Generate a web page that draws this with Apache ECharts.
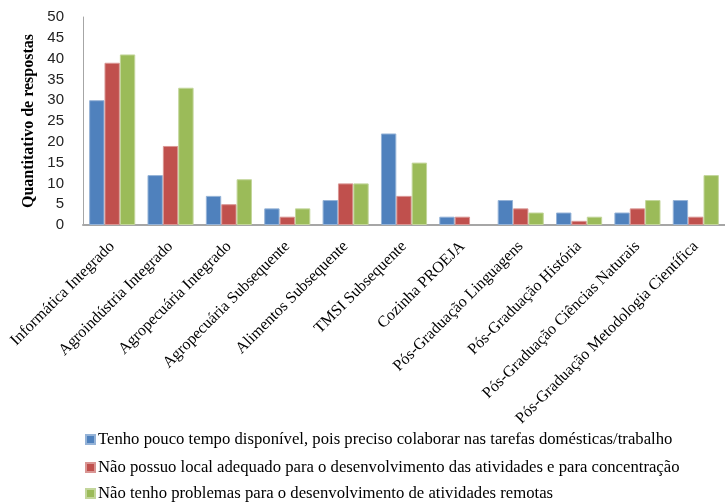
<!DOCTYPE html>
<html>
<head>
<meta charset="utf-8">
<script src="https://cdn.jsdelivr.net/npm/echarts@6/dist/echarts.min.js"></script>
<style>html,body{margin:0;padding:0;background:#fff}#c{width:725px;height:502px}</style>
</head>
<body>
<div id="c"></div>
<script>
const categories = ["Informática Integrado","Agroindústria Integrado","Agropecuária Integrado","Agropecuária Subsequente","Alimentos Subsequente","TMSI Subsequente","Cozinha PROEJA","Pós-Graduação Linguagens","Pós-Graduação História","Pós-Graduação Ciências Naturais","Pós-Graduação Metodologia Científica"];
const seriesNames = ["Tenho pouco tempo disponível, pois preciso colaborar nas tarefas domésticas/trabalho","Não possuo local adequado para o desenvolvimento das atividades e para concentração","Não tenho problemas para o desenvolvimento de atividades remotas"];
const pouco = [30,12,7,4,6,22,2,6,3,3,6];
const semLocal = [39,19,5,2,10,7,2,4,1,4,2];
const semProblemas = [41,33,11,4,10,15,0,3,2,6,12];
const colors = ["#4f81bd","#c0504d","#9bbb59"];
const borders = ["#95b3d7","#d99694","#c3d69b"];
const values = [pouco, semLocal, semProblemas];
const legendTops = [426, 454, 480];

const chart = echarts.init(document.getElementById('c'), null, {renderer:'canvas'});
chart.setOption({
  animation:false,
  backgroundColor:'#fff',
  grid:{left:83, top:17, width:653, height:208, containLabel:false},
  legend: seriesNames.map((n,i)=>({
    orient:'horizontal', left:80, top:legendTops[i], itemWidth:9, itemHeight:9,
    icon:'rect',
    textStyle:{fontFamily:'Liberation Serif', fontSize:16.7, color:'#000', padding:[0,0,0,-2]},
    data:[n]
  })),
  xAxis:{
    type:'category', data:categories,
    axisLine:{lineStyle:{color:'#a6a6a6', width:2}},
    axisTick:{show:false},
    axisLabel:{rotate:45, interval:0, margin:19, fontFamily:'Liberation Serif', fontSize:16, color:'#000'}
  },
  yAxis:{
    type:'value', min:0, max:50, interval:5,
    name:'Quantitativo de respostas', nameLocation:'middle', nameGap:36,
    nameTextStyle:{fontFamily:'Liberation Serif', fontWeight:'bold', fontSize:16, color:'#000'},
    axisLine:{show:true, lineStyle:{color:'#a6a6a6', width:1}},
    axisTick:{show:false},
    splitLine:{show:false},
    axisLabel:{margin:19, fontFamily:'Liberation Sans', fontSize:15, color:'#222'}
  },
  series: values.map((v,i)=>({
    name:seriesNames[i], type:'bar',
    data:v.map(x => x === 0 ? {value:x, itemStyle:{borderWidth:0}} : x),
    barGap:'0%', barCategoryGap:'21%',
    itemStyle:{color:colors[i], borderColor:borders[i], borderWidth:1}
  }))
});
</script>
</body>
</html>
